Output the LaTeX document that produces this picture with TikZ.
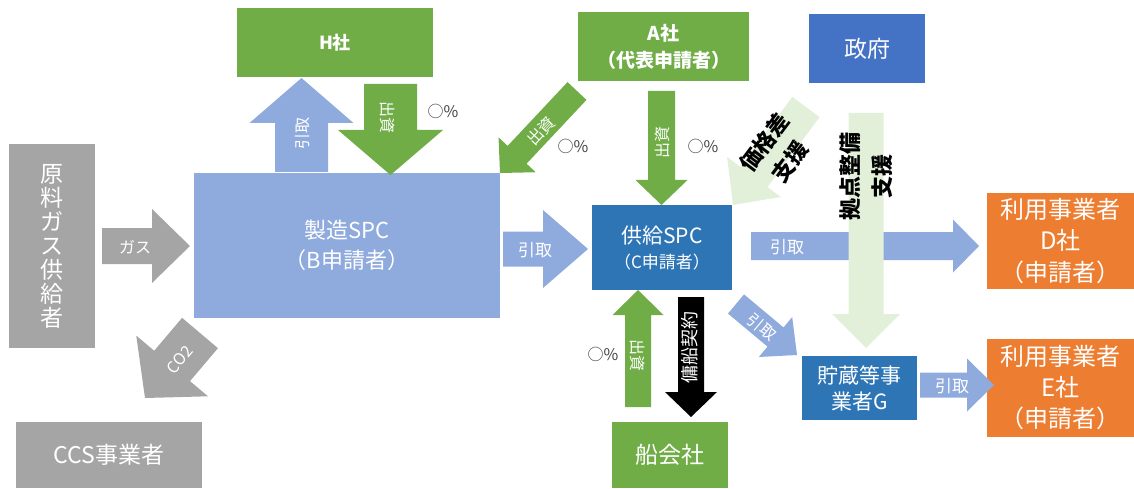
\documentclass[tikz,border=0pt]{standalone}
\usepackage{fontspec}
\setmainfont{Noto Sans CJK JP}
\usetikzlibrary{calc}
\definecolor{cgray}{HTML}{A5A5A5}
\definecolor{clblue}{HTML}{8FAADC}
\definecolor{cblue}{HTML}{2E75B6}
\definecolor{cgreen}{HTML}{70AD47}
\definecolor{corange}{HTML}{ED7D31}
\definecolor{cgovblue}{HTML}{4472C4}
\definecolor{cpale}{HTML}{E2F0D9}
\definecolor{cpct}{HTML}{404040}
\newcommand\fsz[2]{\fontsize{#1pt}{#2pt}\selectfont}
% block arrow: style, tail, tip, shaft half width, head half width, head length
\newcommand\blockarrow[6]{%
  \coordinate (ba-h) at ($(#3)!#6!(#2)$);
  \fill[#1] ($(#2)!#4!90:(#3)$) -- ($(ba-h)!#4!90:(#3)$) -- ($(ba-h)!#5!90:(#3)$) -- (#3)
    -- ($(ba-h)!#5!-90:(#3)$) -- ($(ba-h)!#4!-90:(#3)$) -- ($(#2)!#4!-90:(#3)$) -- cycle;}
\begin{document}
\begin{tikzpicture}[x=1pt,y=-1pt,
  box/.style={inner sep=0pt, text=white, align=center},
  lbl/.style={inner sep=0pt, text=white, font=\fsz{16}{19}},
  pct/.style={inner sep=0pt, text=cpct, font=\fsz{16}{19}},
  support/.style={inner sep=0pt, text=black, align=center}]
\useasboundingbox (0,0) rectangle (1134,489);

% boxes
\node[box, fill=cgray, minimum width=86pt, minimum height=204pt, font=\fsz{23}{24}] (genryo) at (52,246) {原\\料\\ガ\\ス\\供\\給\\者};
\node[box, fill=cgray, minimum width=186pt, minimum height=66pt, font=\fsz{23}{26}] (ccs) at (109,455) {CCS事業者};
\node[box, fill=clblue, minimum width=306pt, minimum height=145pt, font=\fsz{22}{30}] (seizo) at (347,245.5) {製造SPC\\（B申請者）};
\node[box, fill=cblue, minimum width=140pt, minimum height=85pt, font=\fsz{21}{25}] (kyokyu) at (662,247.5) {供給SPC\\{\fsz{17}{20}（C申請者）}};
\node[box, fill=cgreen, minimum width=196pt, minimum height=69pt, font=\bfseries\fsz{18}{22}] (hsha) at (335,42.5) {H社};
\node[box, fill=cgreen, minimum width=171pt, minimum height=69pt, font=\bfseries\fsz{19}{27}] (asha) at (663.5,46.5) {A社\\（代表申請者）};
\node[box, fill=cgovblue, minimum width=116pt, minimum height=69pt, font=\fsz{23}{26}] (seifu) at (867,48.5) {政府};
\node[box, fill=corange, minimum width=147pt, minimum height=96pt, font=\fsz{24}{31.5}] (dsha) at (1060.5,241) {利用事業者\\D社\\（申請者）};
\node[box, fill=corange, minimum width=147pt, minimum height=98pt, font=\fsz{24}{31}] (esha) at (1060.5,388) {利用事業者\\E社\\（申請者）};
\node[box, fill=cblue, minimum width=115pt, minimum height=64pt, font=\fsz{21}{26}] (chozo) at (859.5,388) {貯蔵等事\\業者G};
\node[box, fill=cgreen, minimum width=116pt, minimum height=66pt, font=\fsz{23}{26}] (senkai) at (670,455) {船会社};

% arrow end points
\coordinate (gas-t) at (102,246);   \coordinate (gas-e) at (190,246);
\coordinate (co2-t) at (200,333);   \coordinate (co2-e) at (145,398);
\coordinate (hk1-t) at (503,249);   \coordinate (hk1-e) at (588,249);
\coordinate (hkd-t) at (751,246);   \coordinate (hkd-e) at (979,246);
\coordinate (hkg-t) at (736,304);   \coordinate (hkg-e) at (797,355);
\coordinate (hke-t) at (920,385);   \coordinate (hke-e) at (994,385);
\coordinate (hup-t) at (301.5,172); \coordinate (hup-e) at (301.5,78);
\coordinate (hdn-t) at (390.5,84);  \coordinate (hdn-e) at (390.5,175);
\coordinate (adg-t) at (577,91);    \coordinate (adg-e) at (500,173);
\coordinate (adn-t) at (661.5,91);  \coordinate (adn-e) at (661.5,205);
\coordinate (sup-t) at (638,407);   \coordinate (sup-e) at (638,290);
\coordinate (blk-t) at (691,297);   \coordinate (blk-e) at (691,417);
\coordinate (kak-t) at (806,107);   \coordinate (kak-e) at (733,205);
\coordinate (kyo-t) at (866,113);   \coordinate (kyo-e) at (866,348);

% arrows
\blockarrow{cgray}{gas-t}{gas-e}{18pt}{37pt}{38pt}
\blockarrow{cgray}{co2-t}{co2-e}{23.5pt}{47pt}{42pt}
\blockarrow{clblue}{hk1-t}{hk1-e}{17.5pt}{39pt}{45pt}
\blockarrow{clblue}{hkd-t}{hkd-e}{14pt}{26.5pt}{26pt}
\blockarrow{clblue}{hkg-t}{hkg-e}{12.5pt}{26pt}{28pt}
\blockarrow{clblue}{hke-t}{hke-e}{12.5pt}{26.5pt}{27pt}
\blockarrow{clblue}{hup-t}{hup-e}{26.5pt}{52pt}{45pt}
\blockarrow{cgreen}{hdn-t}{hdn-e}{26.5pt}{52.5pt}{45pt}
\blockarrow{cgreen}{adg-t}{adg-e}{13pt}{25.5pt}{25pt}
\blockarrow{cgreen}{adn-t}{adn-e}{13.5pt}{26pt}{25pt}
\blockarrow{cgreen}{sup-t}{sup-e}{13pt}{25.5pt}{25pt}
\blockarrow{black}{blk-t}{blk-e}{13pt}{26pt}{25pt}
\blockarrow{cpale}{kak-t}{kak-e}{17pt}{33.5pt}{35pt}
\blockarrow{cpale}{kyo-t}{kyo-e}{17.5pt}{34pt}{34pt}

% arrow labels
\node[lbl] (gas-l) at (135,247) {ガス};
\node[lbl, rotate=50] (co2-l) at (180,360) {CO2};
\node[lbl, font=\fsz{17}{20}] (hk1-l) at (535,250) {引取};
\node[lbl, font=\fsz{17}{20}] (hkd-l) at (787,247) {引取};
\node[lbl, rotate=-40] (hkg-l) at (762,327) {引取};
\node[lbl, font=\fsz{17}{20}] (hke-l) at (952,386) {引取};
\node[lbl, rotate=90] (hup-l) at (302,134) {引取};
\node[lbl, rotate=-90] (hdn-l) at (388,118) {出資};
\node[lbl, rotate=47] (adg-l) at (541,131) {出資};
\node[lbl, rotate=90] (adn-l) at (662,143) {出資};
\node[lbl, rotate=-90] (sup-l) at (638,355) {出資};
\node[lbl, rotate=90, font=\fsz{18}{21}] (blk-l) at (690,347) {傭船契約};
\node[support, rotate=53, font=\bfseries\fsz{22}{32}] (kak-l) at (777,152) {価格差\\支援};
\node[support, rotate=90, font=\bfseries\fsz{22}{32}] (kyo-l) at (866,176) {拠点整備\\支援};

% percentages
\node[pct] (p1) at (443,111) {○\%};
\node[pct] (p2) at (573,146) {○\%};
\node[pct] (p3) at (703,146) {○\%};
\node[pct] (p4) at (603,354) {○\%};
\end{tikzpicture}
\end{document}
